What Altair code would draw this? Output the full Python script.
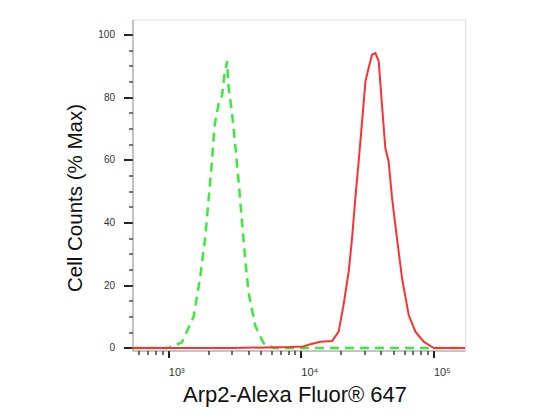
import altair as alt
import pandas as pd

# Isotype control (green dashed)
green_x = [537, 1000, 1268, 1553, 1745, 1902, 2015, 2138, 2236, 2398, 2543, 2647, 2775,
           2851, 3025, 3204, 3394, 3598, 3812, 4038, 4536, 5241, 6232, 20000, 60000, 173000]
green_y = [0, 0, 1.8, 10, 23, 35.5, 47.5, 60, 71, 78, 80.5, 87, 91.5,
           83, 75, 64.5, 53, 40, 28, 17.5, 7, 1.5, 0, 0, 0, 0]

# Arp2 stained sample (red solid)
red_x = [537, 3000, 8300, 10450, 11800, 14030, 17220, 19280, 21040, 22970, 24320, 25760,
         27290, 28970, 30690, 32430, 34440, 36480, 38650, 40930, 43350, 45920, 48750,
         53090, 57940, 65010, 73110, 84330, 100500, 173000]
red_y = [0, 0, 0.3, 0.5, 1.2, 2.0, 2.2, 5.2, 14, 24.5, 35, 47.8, 59.5, 72.3, 85, 89.3,
         93.6, 94.1, 91.5, 77.5, 63.8, 59.5, 47.8, 35, 22.3, 10.6, 5.2, 2, 0, 0]

y_major = [0, 20, 40, 60, 80, 100]
y_minor = list(range(0, 106, 5))
x_major = [1000, 10000, 100000]
x_minor = ([v * 100 for v in range(6, 10)] + [v * 1000 for v in range(1, 10)]
           + [v * 10000 for v in range(1, 10)] + [100000])

df = pd.concat([
    pd.DataFrame({"x": green_x, "y": green_y, "s": "control"}),
    pd.DataFrame({"x": red_x, "y": red_y, "s": "arp2"}),
])

xscale = alt.Scale(type="log", domain=[537, 173000], nice=False)
yscale = alt.Scale(domain=[-0.8, 104.8], nice=False, zero=False)

x_axis_major = alt.Axis(
    orient="bottom",
    title="Arp2-Alexa Fluor® 647",
    values=x_major,
    labelExpr="datum.value == 1000 ? '10³' : datum.value == 10000 ? '10⁴' : '10⁵'",
    tickSize=7, tickWidth=2, tickColor="#222",
    domainColor="#999",
    labelFontSize=11, labelColor="#333", labelPadding=9,
    labelAlign="left", labelOffset=0,
    titleFontSize=22, titleFontWeight="normal", titleColor="#111",
    titlePadding=7, titleX=162,
    grid=False,
)
y_axis_major = alt.Axis(
    orient="left",
    title="Cell Counts (% Max)",
    values=y_major,
    tickSize=9, tickWidth=2, tickColor="#222",
    domainColor="#999",
    labelFontSize=10, labelColor="#333", labelPadding=9,
    titleFontSize=20.5, titleFontWeight="normal", titleColor="#111",
    titlePadding=12, titleY=178,
    grid=False,
)
x_axis_minor = alt.Axis(
    orient="bottom", title=None, values=x_minor, labels=False, domain=False,
    tickSize=4, tickWidth=1.3, tickColor="#222", grid=False,
)
y_axis_minor = alt.Axis(
    orient="left", title=None, values=y_minor, labels=False, domain=False,
    tickSize=4, tickWidth=1.3, tickColor="#333", grid=False,
)

green = alt.Chart(df).transform_filter(alt.datum.s == "control").mark_line(
    color="#3de83d", strokeWidth=2.5, strokeDash=[9, 6]
).encode(
    x=alt.X("x:Q", scale=xscale, axis=x_axis_major),
    y=alt.Y("y:Q", scale=yscale, axis=y_axis_major),
    order=alt.Order("x:Q"),
)

red = alt.Chart(df).transform_filter(alt.datum.s == "arp2").mark_line(
    color="#ff3030", strokeWidth=2
).encode(
    x=alt.X("x:Q", scale=xscale, axis=x_axis_minor),
    y=alt.Y("y:Q", scale=yscale, axis=y_axis_minor),
    order=alt.Order("x:Q"),
)

chart = alt.layer(green, red).resolve_axis(x="independent", y="independent").properties(
    width=332.5, height=331,
    padding={"left": 124.5, "top": 11.5, "right": 70, "bottom": 60},
    autosize=alt.AutoSizeParams(type="none"),
).configure_view(stroke="#999", strokeWidth=1).configure(
    font="Liberation Sans"
)

chart.save("out.html", embed_options={"renderer": "svg", "actions": False})
